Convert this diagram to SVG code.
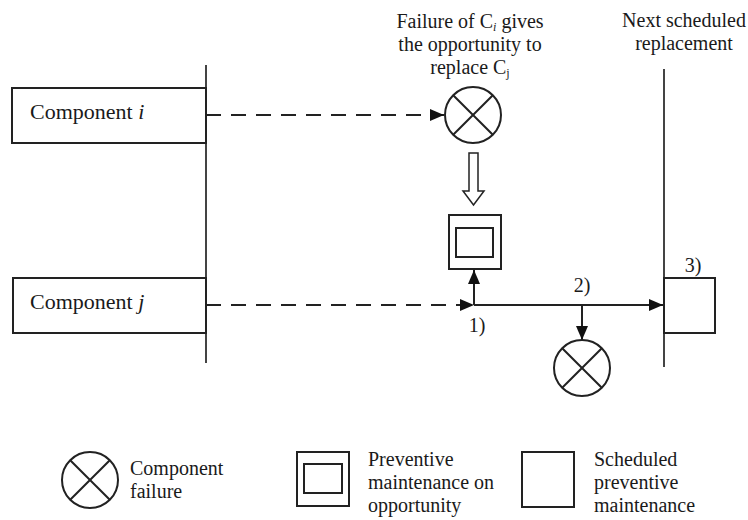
<svg xmlns="http://www.w3.org/2000/svg" width="748" height="520" viewBox="0 0 748 520">
<style>
  text { font-family: "Liberation Serif", "Times New Roman", serif; font-size: 20px; fill: #1a1a1a; }
  .big { font-size: 22px; }
  .sub { font-size: 12px; }
  .ln { stroke: #222; stroke-width: 2; fill: none; }
  .axis { stroke: #444; stroke-width: 2; fill: none; }
  .dash { stroke: #222; stroke-width: 2; fill: none; stroke-dasharray: 15 10; }
  .box { stroke: #222; stroke-width: 2; fill: #fff; }
  .fail { stroke: #222; stroke-width: 2; fill: #fff; }
</style>
<defs>
  <marker id="ah" markerUnits="userSpaceOnUse" markerWidth="14" markerHeight="12" refX="14" refY="6" orient="auto">
    <path d="M0,0 L14,6 L0,12 z" fill="#111"/>
  </marker>
  <g id="failSym">
    <circle cx="0" cy="0" r="28" class="fail"/>
    <line x1="-19.8" y1="-19.8" x2="19.8" y2="19.8" class="ln"/>
    <line x1="19.8" y1="-19.8" x2="-19.8" y2="19.8" class="ln"/>
  </g>
</defs>

<g id="timelines">
  <line x1="206" y1="65" x2="206" y2="363" class="axis"/>
  <line x1="664" y1="69" x2="664" y2="367" class="axis"/>
</g>

<g id="connectors">
  <line x1="206" y1="115" x2="444" y2="115" class="dash" marker-end="url(#ah)"/>
  <line x1="206" y1="305" x2="474" y2="305" class="dash" marker-end="url(#ah)"/>
  <line x1="474" y1="305" x2="474" y2="270" class="ln" marker-end="url(#ah)"/>
  <line x1="474" y1="305" x2="663" y2="305" class="ln" marker-end="url(#ah)"/>
  <line x1="582" y1="305" x2="582" y2="340" class="ln" marker-end="url(#ah)"/>
  <polygon points="469,153 478,153 478,191 484,191 473.5,205 463,191 469,191" fill="#fff" stroke="#222" stroke-width="1.5"/>
</g>

<g id="component-i">
  <rect x="12" y="88" width="194" height="55" class="box"/>
  <text x="30" y="119" class="big">Component <tspan font-style="italic">i</tspan></text>
</g>

<g id="component-j">
  <rect x="13" y="278" width="193" height="55" class="box"/>
  <text x="30" y="309" class="big">Component <tspan font-style="italic">j</tspan></text>
</g>

<g id="failure-i">
  <use href="#failSym" x="473" y="115"/>
</g>

<g id="opportunity-pm">
  <rect x="449" y="215" width="52" height="54" class="box"/>
  <rect x="456" y="228" width="37" height="29" class="box"/>
</g>

<g id="failure-j">
  <use href="#failSym" x="582" y="368"/>
</g>

<g id="scheduled-pm">
  <rect x="664" y="278" width="51" height="55" class="box"/>
</g>

<g id="labels">
  <text x="470" y="28" text-anchor="middle">Failure of C<tspan class="sub" font-style="italic" dy="3">i</tspan><tspan dy="-3"> gives</tspan></text>
  <text x="470" y="51" text-anchor="middle">the opportunity to</text>
  <text x="470" y="74" text-anchor="middle">replace C<tspan class="sub" dy="3">j</tspan></text>
  <text x="684" y="27" text-anchor="middle">Next scheduled</text>
  <text x="684" y="50" text-anchor="middle">replacement</text>
  <text x="477" y="332" text-anchor="middle">1)</text>
  <text x="582" y="292" text-anchor="middle">2)</text>
  <text x="693" y="272" text-anchor="middle">3)</text>
</g>

<g id="legend-failure">
  <use href="#failSym" x="90" y="480"/>
  <text x="130" y="475">Component</text>
  <text x="130" y="498">failure</text>
</g>

<g id="legend-opportunity">
  <rect x="297" y="452" width="52" height="54" class="box"/>
  <rect x="304" y="464" width="38" height="29" class="box"/>
  <text x="368" y="466">Preventive</text>
  <text x="368" y="489">maintenance on</text>
  <text x="368" y="512">opportunity</text>
</g>

<g id="legend-scheduled">
  <rect x="522" y="452" width="52" height="55" class="box"/>
  <text x="594" y="466">Scheduled</text>
  <text x="594" y="489">preventive</text>
  <text x="594" y="512">maintenance</text>
</g>
</svg>
